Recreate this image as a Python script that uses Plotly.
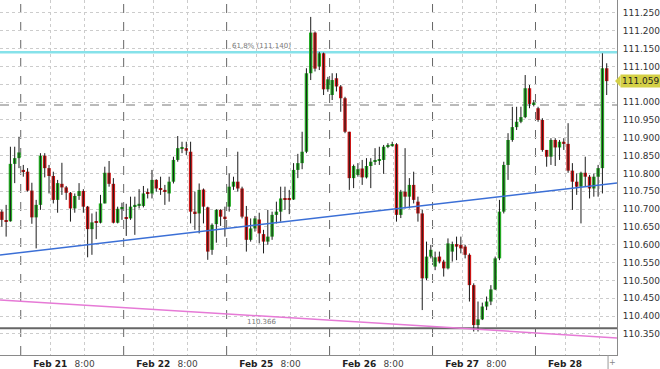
import plotly.graph_objects as go

# ---------------- data ----------------
# hourly candles, index 0 = first hour of the "Feb 21" session
candle_idx = list(range(-4, 138))
opens = [110.693, 110.668, 110.666, 110.827, 110.843, 110.810, 110.805, 110.752, 110.677, 110.712,
         110.850, 110.815, 110.793, 110.726, 110.771, 110.761, 110.746, 110.702, 110.737, 110.751,
         110.707, 110.644, 110.664, 110.662, 110.716, 110.802, 110.771, 110.662, 110.701, 110.676,
         110.674, 110.707, 110.709, 110.709, 110.746, 110.744, 110.782, 110.758, 110.754, 110.744,
         110.777, 110.838, 110.871, 110.871, 110.861, 110.693, 110.688, 110.755, 110.705, 110.586,
         110.658, 110.698, 110.679, 110.707, 110.763, 110.777, 110.758, 110.679, 110.614, 110.646,
         110.671, 110.630, 110.609, 110.623, 110.684, 110.693, 110.730, 110.730, 110.727, 110.810,
         110.829, 110.861, 111.081, 111.195, 111.100, 111.137, 111.036, 111.020, 111.067, 111.044,
         111.011, 110.917, 110.787, 110.796, 110.814, 110.789, 110.821, 110.833, 110.836, 110.838,
         110.875, 110.879, 110.882, 110.684, 110.749, 110.735, 110.768, 110.721, 110.688, 110.506,
         110.567, 110.539, 110.567, 110.553, 110.534, 110.581, 110.602, 110.600, 110.595, 110.572,
         110.487, 110.375, 110.391, 110.427, 110.441, 110.475, 110.562, 110.693, 110.824, 110.894,
         110.930, 110.945, 110.958, 111.039, 110.992, 110.983, 110.950, 110.866, 110.847, 110.894,
         110.873, 110.889, 110.883, 110.808, 110.777, 110.763, 110.802, 110.791, 110.758, 110.791,
         110.815, 111.095]
highs = [110.698, 110.712, 110.875, 110.875, 110.903, 110.824, 110.815, 110.774, 110.726, 110.857,
         110.857, 110.824, 110.805, 110.782, 110.830, 110.765, 110.748, 110.744, 110.773, 110.756,
         110.709, 110.688, 110.693, 110.740, 110.819, 110.835, 110.787, 110.707, 110.718, 110.715,
         110.735, 110.735, 110.756, 110.765, 110.758, 110.810, 110.784, 110.791, 110.768, 110.791,
         110.847, 110.905, 110.889, 110.889, 110.889, 110.749, 110.772, 110.758, 110.707, 110.660,
         110.700, 110.700, 110.707, 110.800, 110.791, 110.861, 110.763, 110.709, 110.674, 110.681,
         110.690, 110.642, 110.698, 110.693, 110.721, 110.763, 110.763, 110.754, 110.829, 110.855,
         110.917, 111.095, 111.239, 111.198, 111.141, 111.139, 111.071, 111.081, 111.081, 111.048,
         111.015, 110.917, 110.825, 110.829, 110.838, 110.843, 110.843, 110.871, 110.875, 110.880,
         110.885, 110.889, 110.885, 110.754, 110.871, 110.787, 110.805, 110.735, 110.698, 110.609,
         110.600, 110.581, 110.581, 110.558, 110.618, 110.609, 110.623, 110.623, 110.600, 110.576,
         110.492, 110.441, 110.438, 110.455, 110.487, 110.567, 110.726, 110.833, 110.913, 110.987,
         110.987, 110.987, 111.076, 111.048, 111.006, 110.987, 110.955, 110.866, 110.899, 110.899,
         110.894, 110.899, 110.941, 110.829, 110.800, 110.805, 110.847, 110.796, 110.800, 110.824,
         111.137, 111.109]
lows = [110.651, 110.623, 110.665, 110.773, 110.815, 110.791, 110.749, 110.659, 110.590, 110.698,
        110.789, 110.744, 110.716, 110.690, 110.740, 110.726, 110.665, 110.690, 110.726, 110.690,
        110.565, 110.572, 110.616, 110.660, 110.716, 110.763, 110.660, 110.660, 110.670, 110.625,
        110.670, 110.628, 110.702, 110.705, 110.730, 110.730, 110.749, 110.740, 110.712, 110.721,
        110.772, 110.833, 110.857, 110.852, 110.660, 110.642, 110.632, 110.660, 110.558, 110.572,
        110.606, 110.653, 110.623, 110.693, 110.754, 110.749, 110.674, 110.581, 110.609, 110.637,
        110.604, 110.576, 110.600, 110.614, 110.660, 110.665, 110.698, 110.686, 110.726, 110.787,
        110.812, 110.857, 111.062, 111.086, 111.090, 111.020, 111.029, 111.006, 111.030, 110.973,
        110.913, 110.754, 110.759, 110.791, 110.768, 110.786, 110.759, 110.824, 110.824, 110.799,
        110.871, 110.875, 110.665, 110.675, 110.702, 110.702, 110.716, 110.665, 110.417, 110.501,
        110.562, 110.529, 110.548, 110.511, 110.531, 110.553, 110.557, 110.576, 110.562, 110.441,
        110.357, 110.357, 110.389, 110.417, 110.431, 110.473, 110.557, 110.688, 110.782, 110.889,
        110.922, 110.941, 110.955, 110.983, 110.988, 110.945, 110.861, 110.819, 110.824, 110.821,
        110.838, 110.866, 110.802, 110.698, 110.740, 110.660, 110.763, 110.730, 110.735, 110.735,
        110.744, 111.020]
closes = [110.670, 110.664, 110.827, 110.843, 110.859, 110.805, 110.752, 110.677, 110.712, 110.850,
          110.815, 110.793, 110.726, 110.773, 110.761, 110.746, 110.702, 110.737, 110.751, 110.707,
          110.644, 110.663, 110.662, 110.716, 110.802, 110.771, 110.662, 110.701, 110.705, 110.673,
          110.707, 110.712, 110.715, 110.744, 110.743, 110.782, 110.758, 110.754, 110.749, 110.777,
          110.838, 110.871, 110.872, 110.864, 110.693, 110.688, 110.754, 110.707, 110.581, 110.656,
          110.698, 110.679, 110.674, 110.763, 110.777, 110.758, 110.679, 110.614, 110.646, 110.674,
          110.632, 110.609, 110.623, 110.684, 110.693, 110.730, 110.728, 110.727, 110.810, 110.829,
          110.861, 111.081, 111.195, 111.094, 111.137, 111.036, 111.064, 111.062, 111.044, 111.011,
          110.917, 110.787, 110.821, 110.812, 110.789, 110.821, 110.833, 110.836, 110.838, 110.875,
          110.880, 110.882, 110.684, 110.749, 110.735, 110.768, 110.726, 110.688, 110.506, 110.567,
          110.586, 110.565, 110.553, 110.534, 110.604, 110.602, 110.595, 110.590, 110.572, 110.487,
          110.375, 110.391, 110.427, 110.441, 110.475, 110.562, 110.693, 110.824, 110.894, 110.930,
          110.945, 110.958, 111.039, 110.995, 110.999, 110.950, 110.866, 110.847, 110.894, 110.873,
          110.889, 110.883, 110.808, 110.777, 110.763, 110.802, 110.791, 110.758, 110.791, 110.815,
          111.095, 111.059]

day_labels = ["Feb 21", "Feb 22", "Feb 25", "Feb 26", "Feb 27", "Feb 28"]
hour_labels = ["8:00", "8:00", "8:00", "8:00", "8:00", ""]
hours_per_session = 24

y_ticks = [110.35, 110.40, 110.45, 110.50, 110.55, 110.60, 110.65, 110.70, 110.75, 110.80,
           110.85, 110.90, 110.95, 111.00, 111.05, 111.10, 111.15, 111.20, 111.25]

# trend lines (candle index, price)
blue_idx = [-4.43, 139.4]
blue_price = [110.5716, 110.7734]
pink_idx = [-4.43, 139.4]
pink_price = [110.4454, 110.3390]

fib_level = 111.140
fib_label = "61.8% (111.140)"
support_level = 110.366
support_label = "110.366"
ref_level = 110.992
last_price = closes[-1]

# ---------------- figure ----------------
GREEN = "#25ab25"
RED = "#cc1616"
X_RANGE = [-4.43, 139.4]
Y_RANGE = [110.2911, 111.2864]

fig = go.Figure()

# wicks
wx, wy = [], []
for k, h, l in zip(candle_idx, highs, lows):
    wx += [k, k, None]
    wy += [l, h, None]
fig.add_trace(go.Scatter(x=wx, y=wy, mode="lines", line=dict(color="#1c1c1c", width=1),
                         hoverinfo="skip"))

# bodies
base = [min(o, c) for o, c in zip(opens, closes)]
height = [max(abs(c - o), 0.0025) for o, c in zip(opens, closes)]
colors = [GREEN if c >= o else RED for o, c in zip(opens, closes)]
fig.add_trace(go.Bar(x=candle_idx, y=height, base=base, width=0.8,
                     marker=dict(color=colors, line=dict(width=0)), hoverinfo="skip"))

# trend lines
fig.add_trace(go.Scatter(x=blue_idx, y=blue_price, mode="lines",
                         line=dict(color="#3b6fd6", width=1.5), hoverinfo="skip"))
fig.add_trace(go.Scatter(x=pink_idx, y=pink_price, mode="lines",
                         line=dict(color="#e67ad6", width=1.5), hoverinfo="skip"))

shapes = []
# session separators
for d in range(len(day_labels)):
    xs = d * hours_per_session + 0.4
    shapes.append(dict(type="line", xref="x", yref="paper", x0=xs, x1=xs, y0=0, y1=1,
                       line=dict(color="#666666", width=1, dash="dash"), layer="below"))
# horizontal levels
shapes.append(dict(type="line", xref="paper", yref="y", x0=0, x1=1, y0=ref_level, y1=ref_level,
                   line=dict(color="#777777", width=1, dash="dash"), layer="below"))
shapes.append(dict(type="line", xref="paper", yref="y", x0=0, x1=1, y0=fib_level, y1=fib_level,
                   line=dict(color="#86e2ea", width=2.5), layer="below"))
shapes.append(dict(type="line", xref="paper", yref="y", x0=0, x1=1, y0=support_level, y1=support_level,
                   line=dict(color="#666666", width=2), layer="below"))
# price tag arrow
d = 0.0155
shapes.append(dict(type="path", xref="paper", yref="y",
                   path=f"M 0.9968,{last_price} L 1.0055,{last_price + d} L 1.0055,{last_price - d} Z",
                   fillcolor="#d4d046", line=dict(width=0), layer="above"))
# small marker at bottom right
shapes.append(dict(type="line", xref="paper", yref="paper", x0=0.9855, x1=0.9855, y0=0, y1=-0.04,
                   line=dict(color="#999999", width=1)))

annotations = [
    dict(xref="paper", yref="y", x=0.4246, y=fib_level, text=fib_label, showarrow=False,
         yanchor="bottom", yshift=0, font=dict(family="DejaVu Sans", size=7, color="#777777")),
    dict(xref="paper", yref="y", x=0.4246, y=support_level, text=support_label, showarrow=False,
         yanchor="bottom", yshift=0, font=dict(family="DejaVu Sans", size=7, color="#777777")),
    dict(xref="paper", yref="y", x=1.0055, y=last_price, text=f"{last_price:.3f}", showarrow=False,
         xanchor="left", yanchor="middle", bgcolor="#d4d046", borderpad=1,
         font=dict(family="DejaVu Sans", size=9, color="#222222")),
    dict(xref="paper", yref="paper", x=0.9935, y=-0.022, text="+", showarrow=False,
         xanchor="center", yanchor="middle", font=dict(family="DejaVu Sans", size=8, color="#888888")),
]

tickvals, ticktext = [], []
for d, (dl, hl) in enumerate(zip(day_labels, hour_labels)):
    tickvals.append(d * hours_per_session + 7.3)
    ticktext.append(f"<b>{dl}</b>")
    tickvals.append(d * hours_per_session + 15.3)
    ticktext.append(f'<span style="color:#444">{hl}</span>')

# the price tag covers the tick label nearest to the last price
y_ticktext = ["" if abs(v - last_price) < 0.02 else f"{v:.3f}" for v in y_ticks]

fig.update_layout(
    width=660, height=369, margin=dict(l=0, r=43, t=0, b=14),
    paper_bgcolor="white", plot_bgcolor="white", showlegend=False,
    shapes=shapes, annotations=annotations,
    xaxis=dict(range=X_RANGE, tickvals=tickvals, ticktext=ticktext, showgrid=True,
               gridcolor="#cccccc", griddash="dot", gridwidth=1, ticks="", zeroline=False,
               showline=True, linecolor="#8a8a8a", linewidth=1,
               tickfont=dict(family="DejaVu Sans", size=9, color="#222222")),
    yaxis=dict(range=Y_RANGE, side="right", tickvals=y_ticks, ticktext=y_ticktext, showgrid=True,
               gridcolor="#cccccc", griddash="dot", gridwidth=1, zeroline=False,
               ticks="outside", ticklen=3, tickcolor="white",
               showline=True, linecolor="#8a8a8a", linewidth=1,
               tickfont=dict(family="DejaVu Sans", size=9, color="#333333")),
)

fig.write_html("out.html")
